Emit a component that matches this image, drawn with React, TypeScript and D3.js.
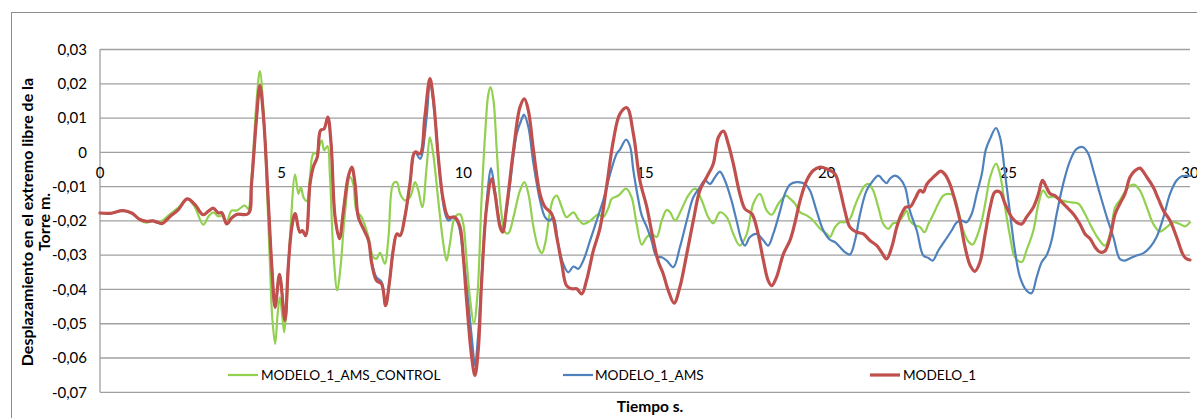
import React from "react";
import * as d3 from "d3";

// ---- DATA (time s, displacement m) ----
const xTicks = [0, 5, 10, 15, 20, 25, 30];
const yTicks = [0.03, 0.02, 0.01, 0, -0.01, -0.02, -0.03, -0.04, -0.05, -0.06, -0.07];
const seriesNames = ["MODELO_1_AMS_CONTROL", "MODELO_1_AMS", "MODELO_1"];
const axisTitleY = ["Desplazamiento en el extremo libre de la", "Torre m."];
const axisTitleX = "Tiempo s.";

const modelo1AmsControl: [number, number][] = [
  [0, -0.0177], [0.28, -0.0178], [0.63, -0.017], [0.87, -0.0177], [1.1, -0.0198], [1.28, -0.0205], [1.45, -0.02],
  [1.56, -0.0205], [1.7, -0.02], [1.93, -0.018], [2.15, -0.0162], [2.4, -0.0136], [2.61, -0.016], [2.84, -0.0211],
  [3.0, -0.0185], [3.12, -0.0175], [3.26, -0.0187], [3.35, -0.0185], [3.49, -0.02], [3.62, -0.017], [3.76, -0.017],
  [3.99, -0.0155], [4.08, -0.0165], [4.17, -0.0075], [4.31, 0.0151], [4.4, 0.0237], [4.5, 0.0122], [4.59, -0.0092],
  [4.68, -0.0335], [4.74, -0.048], [4.82, -0.0559], [4.89, -0.047], [4.95, -0.0423], [5.02, -0.048], [5.07, -0.0525],
  [5.14, -0.0442], [5.23, -0.0247], [5.37, -0.0065], [5.46, -0.0121], [5.53, -0.0102], [5.6, -0.0131], [5.69, -0.0142],
  [5.78, -0.0072], [5.87, -0.0004], [5.96, -0.0002], [6.1, 0.0035], [6.17, 0.0006], [6.26, 0.0018], [6.33, -0.0072],
  [6.42, -0.0286], [6.53, -0.0403], [6.62, -0.0335], [6.74, -0.0179], [6.88, -0.0072], [6.97, -0.0092], [7.06, -0.017],
  [7.2, -0.0189], [7.39, -0.0247], [7.52, -0.0306], [7.61, -0.031], [7.71, -0.0293], [7.84, -0.0325], [7.94, -0.0247],
  [8.07, -0.0092], [8.17, -0.0087], [8.26, -0.0121], [8.39, -0.014], [8.53, -0.0131], [8.67, -0.0087], [8.76, -0.0111],
  [8.87, -0.016], [8.99, -0.0043], [9.08, 0.0044], [9.17, -0.0004], [9.31, -0.014], [9.45, -0.0267], [9.54, -0.0316],
  [9.63, -0.0267], [9.77, -0.0189], [9.91, -0.0181], [10.0, -0.0209], [10.09, -0.0316], [10.18, -0.0423], [10.29, -0.05],
  [10.39, -0.0413], [10.5, -0.014], [10.6, 0.0054], [10.69, 0.0171], [10.75, 0.019], [10.83, 0.0151], [10.92, 0.0006],
  [11.03, -0.016], [11.15, -0.0233], [11.24, -0.0236], [11.38, -0.0189], [11.56, -0.0111], [11.68, -0.0087],
  [11.79, -0.0121], [11.93, -0.0218], [12.06, -0.0277], [12.16, -0.0294], [12.25, -0.0267], [12.39, -0.017],
  [12.48, -0.0135], [12.57, -0.0126], [12.71, -0.016], [12.84, -0.0189], [13.03, -0.0175], [13.16, -0.0194],
  [13.3, -0.0209], [13.49, -0.02], [13.72, -0.0181], [13.85, -0.0189], [14.0, -0.016], [14.08, -0.0136],
  [14.27, -0.0126], [14.48, -0.0106], [14.63, -0.0131], [14.77, -0.0209], [14.91, -0.0269], [15.05, -0.0247],
  [15.18, -0.0238], [15.32, -0.0247], [15.46, -0.0199], [15.6, -0.0168], [15.69, -0.0175], [15.83, -0.0199],
  [16.01, -0.0165], [16.19, -0.0126], [16.38, -0.0106], [16.56, -0.014], [16.74, -0.0189], [16.88, -0.0207],
  [17.06, -0.0175], [17.25, -0.0189], [17.43, -0.0238], [17.61, -0.0272], [17.8, -0.0238], [17.98, -0.015],
  [18.16, -0.0121], [18.35, -0.017], [18.49, -0.0182], [18.67, -0.015], [18.88, -0.0126], [18.99, -0.0135],
  [19.13, -0.015], [19.27, -0.0175], [19.45, -0.0184], [19.63, -0.0199], [19.82, -0.0223], [20.0, -0.0238],
  [20.09, -0.0247], [20.23, -0.0218], [20.37, -0.0204], [20.5, -0.0204], [20.64, -0.0194], [20.78, -0.0155],
  [20.92, -0.0121], [21.05, -0.0097], [21.15, -0.0092], [21.28, -0.0111], [21.42, -0.016], [21.56, -0.0209],
  [21.7, -0.0223], [21.83, -0.0207], [21.97, -0.0204], [22.11, -0.0184], [22.2, -0.017], [22.29, -0.0199],
  [22.43, -0.0213], [22.57, -0.0218], [22.69, -0.0233], [22.8, -0.0209], [22.94, -0.018], [23.07, -0.015],
  [23.21, -0.0126], [23.35, -0.0121], [23.49, -0.0126], [23.62, -0.017], [23.76, -0.0228], [23.9, -0.026],
  [24.02, -0.0269], [24.13, -0.0247], [24.27, -0.0199], [24.38, -0.014], [24.5, -0.0072], [24.66, -0.0033],
  [24.77, -0.0063], [24.91, -0.016], [25.05, -0.0247], [25.18, -0.0306], [25.37, -0.032], [25.5, -0.0286],
  [25.69, -0.0228], [25.83, -0.015], [25.96, -0.0111], [26.1, -0.0131], [26.24, -0.0129], [26.38, -0.0136],
  [26.56, -0.0143], [26.74, -0.0146], [26.93, -0.015], [27.11, -0.018], [27.29, -0.0218], [27.48, -0.0252],
  [27.66, -0.0272], [27.8, -0.0238], [27.94, -0.016], [28.07, -0.014], [28.3, -0.0102], [28.46, -0.0094],
  [28.62, -0.0111], [28.81, -0.016], [28.99, -0.0209], [29.17, -0.0231], [29.36, -0.0218], [29.54, -0.0204],
  [29.72, -0.0209], [29.86, -0.0216], [30, -0.0204],
];

const modelo1Ams: [number, number][] = [
  [0, -0.0177], [0.28, -0.0178], [0.63, -0.017], [0.87, -0.0177], [1.1, -0.0196], [1.28, -0.0201], [1.45, -0.02],
  [1.56, -0.0203], [1.7, -0.0208], [1.93, -0.0187], [2.15, -0.0168], [2.4, -0.0136], [2.61, -0.0152], [2.84, -0.0182],
  [3.0, -0.017], [3.12, -0.0163], [3.26, -0.0177], [3.35, -0.0176], [3.49, -0.0209], [3.62, -0.0192], [3.76, -0.0181],
  [4.08, -0.0179], [4.17, -0.0092], [4.31, 0.0103], [4.4, 0.0195], [4.5, 0.0103], [4.63, -0.014], [4.73, -0.0335],
  [4.82, -0.0452], [4.94, -0.0356], [5.09, -0.049], [5.18, -0.0335], [5.28, -0.0218], [5.37, -0.0179], [5.5, -0.0233],
  [5.57, -0.0228], [5.66, -0.0243], [5.78, -0.0092], [5.87, -0.0043], [5.98, -0.0014], [6.07, 0.0064], [6.17, 0.0069],
  [6.27, 0.0103], [6.36, 0.0025], [6.47, -0.0189], [6.59, -0.0252], [6.7, -0.017], [6.83, -0.0072], [6.93, -0.0043],
  [7.02, -0.0092], [7.11, -0.0189], [7.25, -0.0223], [7.39, -0.0257], [7.48, -0.032], [7.61, -0.0365], [7.75, -0.0378],
  [7.86, -0.0447], [7.96, -0.0384], [8.07, -0.0286], [8.17, -0.0238], [8.26, -0.0243], [8.39, -0.0189], [8.53, -0.0092],
  [8.67, 0.0001], [8.81, -0.0019], [8.99, 0.0103], [9.08, 0.02], [9.22, 0.0103], [9.36, -0.0072], [9.5, -0.0179],
  [9.59, -0.0199], [9.72, -0.0189], [9.86, -0.0209], [10.0, -0.0306], [10.14, -0.0442], [10.25, -0.0559],
  [10.32, -0.0622], [10.41, -0.053], [10.55, -0.0286], [10.69, -0.0092], [10.76, -0.0046], [10.87, -0.0111],
  [11.01, -0.0209], [11.08, -0.0228], [11.24, -0.0131], [11.47, 0.0054], [11.61, 0.0098], [11.67, 0.011],
  [11.79, 0.0074], [11.93, -0.0033], [12.11, -0.014], [12.25, -0.0189], [12.38, -0.0199], [12.48, -0.0189],
  [12.61, -0.0267], [12.75, -0.0325], [12.89, -0.035], [13.03, -0.0333], [13.16, -0.034], [13.3, -0.0316],
  [13.49, -0.0257], [13.67, -0.0199], [13.85, -0.014], [14.04, -0.0063], [14.22, -0.0004], [14.31, 0.0008],
  [14.48, 0.0037], [14.59, 0.0017], [14.68, -0.0053], [14.82, -0.014], [14.91, -0.0184], [15.05, -0.0218],
  [15.18, -0.0257], [15.32, -0.0304], [15.46, -0.0306], [15.6, -0.0316], [15.78, -0.0335], [15.96, -0.0277],
  [16.15, -0.0199], [16.33, -0.0131], [16.51, -0.0102], [16.65, -0.0082], [16.79, -0.0092], [16.93, -0.0072],
  [17.06, -0.0056], [17.2, -0.0082], [17.38, -0.014], [17.52, -0.0199], [17.66, -0.0257], [17.75, -0.0272],
  [17.89, -0.0247], [18.07, -0.0238], [18.26, -0.0257], [18.39, -0.0272], [18.53, -0.0238], [18.72, -0.017],
  [18.85, -0.0121], [18.99, -0.0094], [19.17, -0.0087], [19.4, -0.0092], [19.54, -0.0111], [19.72, -0.017],
  [19.91, -0.0228], [20.09, -0.0255], [20.23, -0.0262], [20.37, -0.0277], [20.5, -0.0291], [20.64, -0.0298],
  [20.78, -0.0257], [20.92, -0.018], [21.1, -0.0111], [21.28, -0.0082], [21.42, -0.0068], [21.56, -0.0082],
  [21.65, -0.009], [21.74, -0.0077], [21.88, -0.0068], [22.02, -0.0077], [22.16, -0.0102], [22.29, -0.017],
  [22.48, -0.0228], [22.66, -0.0301], [22.8, -0.0308], [22.92, -0.0316], [23.07, -0.0287], [23.26, -0.0257],
  [23.44, -0.0228], [23.58, -0.0204], [23.72, -0.0199], [23.85, -0.0204], [23.99, -0.018], [24.13, -0.0121],
  [24.27, -0.0063], [24.38, 0.0008], [24.5, 0.004], [24.66, 0.0071], [24.77, 0.0044], [24.91, -0.0063],
  [25.05, -0.018], [25.18, -0.0286], [25.32, -0.0364], [25.5, -0.0403], [25.64, -0.0411], [25.78, -0.0364],
  [25.92, -0.032], [26.05, -0.0301], [26.19, -0.0257], [26.33, -0.018], [26.51, -0.0092], [26.7, -0.0024],
  [26.88, 0.001], [27.06, 0.0015], [27.2, -0.0004], [27.34, -0.0053], [27.52, -0.0121], [27.71, -0.0189],
  [27.89, -0.0247], [28.07, -0.0311], [28.21, -0.0316], [28.35, -0.0309], [28.53, -0.0301], [28.72, -0.0294],
  [28.9, -0.0277], [29.08, -0.0247], [29.27, -0.0189], [29.45, -0.0121], [29.63, -0.0082], [29.77, -0.007],
  [30, -0.0069],
];

const modelo1: [number, number][] = [
  [0, -0.0177], [0.28, -0.0178], [0.63, -0.017], [0.87, -0.0177], [1.1, -0.0196], [1.28, -0.0201], [1.45, -0.02],
  [1.56, -0.0203], [1.7, -0.0208], [1.93, -0.0187], [2.15, -0.0168], [2.4, -0.0136], [2.61, -0.0152], [2.84, -0.0182],
  [3.0, -0.017], [3.12, -0.0163], [3.26, -0.0177], [3.35, -0.0176], [3.49, -0.0209], [3.62, -0.0192], [3.76, -0.0181],
  [4.08, -0.0179], [4.17, -0.0092], [4.31, 0.0103], [4.4, 0.0195], [4.5, 0.0103], [4.63, -0.014], [4.73, -0.0335],
  [4.82, -0.0452], [4.94, -0.0356], [5.09, -0.049], [5.18, -0.0335], [5.28, -0.0218], [5.37, -0.0179], [5.5, -0.0233],
  [5.57, -0.0228], [5.66, -0.0243], [5.78, -0.0092], [5.87, -0.0043], [5.98, -0.0014], [6.07, 0.0064], [6.17, 0.0069],
  [6.27, 0.0103], [6.36, 0.0025], [6.47, -0.0189], [6.59, -0.0252], [6.7, -0.017], [6.83, -0.0072], [6.93, -0.0043],
  [7.02, -0.0092], [7.11, -0.0189], [7.25, -0.0223], [7.39, -0.0257], [7.48, -0.0325], [7.61, -0.0374], [7.75, -0.0384],
  [7.86, -0.0447], [7.96, -0.0384], [8.07, -0.0286], [8.17, -0.0238], [8.26, -0.0243], [8.39, -0.0189], [8.53, -0.0092],
  [8.67, 0.0001], [8.81, -0.0004], [8.94, 0.0103], [9.08, 0.0215], [9.17, 0.0161], [9.31, -0.0014], [9.45, -0.014],
  [9.59, -0.0189], [9.77, -0.0189], [9.91, -0.0218], [10.0, -0.0306], [10.09, -0.0432], [10.23, -0.0597],
  [10.32, -0.0651], [10.41, -0.0577], [10.5, -0.0384], [10.64, -0.016], [10.78, -0.0077], [10.87, -0.0121],
  [11.01, -0.0218], [11.08, -0.0233], [11.19, -0.016], [11.38, 0.0006], [11.56, 0.0132], [11.68, 0.0156],
  [11.79, 0.0122], [11.93, 0.0006], [12.11, -0.0121], [12.25, -0.016], [12.43, -0.0179], [12.57, -0.0247],
  [12.71, -0.0325], [12.84, -0.0389], [12.98, -0.0398], [13.12, -0.0398], [13.26, -0.0413], [13.39, -0.0374],
  [13.58, -0.0286], [13.76, -0.0222], [13.94, -0.0102], [14.13, 0.0035], [14.31, 0.0112], [14.5, 0.013],
  [14.68, 0.0054], [14.86, -0.0082], [15.05, -0.016], [15.23, -0.0257], [15.37, -0.032], [15.5, -0.0354],
  [15.64, -0.0403], [15.8, -0.044], [15.96, -0.0393], [16.15, -0.0296], [16.33, -0.0199], [16.51, -0.0111],
  [16.7, -0.0072], [16.88, -0.0033], [17.02, 0.0044], [17.16, 0.0062], [17.29, 0.0025], [17.43, -0.0033],
  [17.61, -0.0121], [17.75, -0.0165], [17.94, -0.0179], [18.07, -0.0218], [18.26, -0.0316], [18.39, -0.0374],
  [18.49, -0.0389], [18.62, -0.0364], [18.81, -0.0296], [18.99, -0.0257], [19.13, -0.0204], [19.27, -0.014],
  [19.45, -0.0082], [19.63, -0.0053], [19.82, -0.0043], [20.0, -0.0048], [20.23, -0.0063], [20.37, -0.0111],
  [20.5, -0.017], [20.64, -0.0218], [20.83, -0.0233], [21.01, -0.0238], [21.19, -0.0257], [21.38, -0.0272],
  [21.51, -0.0291], [21.65, -0.0311], [21.79, -0.0277], [21.93, -0.0218], [22.06, -0.018], [22.18, -0.016],
  [22.31, -0.0158], [22.43, -0.0136], [22.57, -0.0111], [22.66, -0.0116], [22.75, -0.0094], [22.89, -0.0077],
  [23.03, -0.0063], [23.14, -0.0055], [23.26, -0.0065], [23.39, -0.0092], [23.53, -0.014], [23.67, -0.0199],
  [23.81, -0.0277], [23.95, -0.033], [24.08, -0.0347], [24.22, -0.032], [24.36, -0.024], [24.5, -0.016],
  [24.63, -0.0116], [24.77, -0.0116], [24.91, -0.015], [25.09, -0.0189], [25.23, -0.0204], [25.37, -0.0209],
  [25.5, -0.0189], [25.69, -0.016], [25.83, -0.0121], [25.94, -0.0082], [26.05, -0.0102], [26.15, -0.0121],
  [26.28, -0.0126], [26.42, -0.014], [26.61, -0.016], [26.79, -0.018], [26.97, -0.0209], [27.11, -0.0238],
  [27.25, -0.0252], [27.39, -0.0277], [27.52, -0.0291], [27.66, -0.0288], [27.8, -0.0247], [27.94, -0.018],
  [28.07, -0.015], [28.21, -0.0121], [28.35, -0.0072], [28.49, -0.0053], [28.62, -0.0046], [28.81, -0.0072],
  [28.99, -0.0102], [29.13, -0.0136], [29.27, -0.017], [29.45, -0.0199], [29.63, -0.0247], [29.82, -0.0301],
  [29.91, -0.0311], [30, -0.0314],
];

const seriesData = [modelo1AmsControl, modelo1Ams, modelo1];
const seriesColors = ["#92D050", "#4F81BD", "#C0504D"];
const seriesWidths = [2.2, 2.2, 3.2];

const W = 1197;
const H = 418;
const M = { left: 100, right: 1190, top: 49.5, bottom: 392.3 };

const loc = d3.formatLocale({ decimal: ",", thousands: ".", grouping: [3], currency: ["", ""], minus: "-" });
const f2 = loc.format(".2f");
const fmtY = (v: number) => (Math.abs(v) < 1e-9 ? "0" : f2(v));

export default function App() {
  const x = d3.scaleLinear().domain([0, 30]).range([M.left, M.right]);
  const y = d3.scaleLinear().domain([-0.07, 0.03]).range([M.bottom, M.top]);
  const line = d3
    .line<[number, number]>()
    .x((d) => x(d[0]))
    .y((d) => y(d[1]))
    .curve(d3.curveCatmullRom.alpha(0.5));

  const font = "Lato, 'Open Sans', sans-serif";
  const legendItems = [
    { lx: 228, tx: 261 },
    { lx: 563, tx: 595 },
    { lx: 870, tx: 903 },
  ];
  const legendY = 375;
  const titleCy = 222;

  return (
    <svg
      width={W}
      height={H}
      style={{ position: "absolute", left: 0, top: 0, background: "#fff" }}
      fontFamily={font}
    >
      <rect x={0} y={0} width={W} height={H} fill="#fff" />
      <rect x={11.5} y={12.5} width={W + 10} height={H + 10} fill="none" stroke="#8c8c8c" strokeWidth={1} />
      {/* gridlines */}
      {yTicks.map((t) => (
        <line key={t} x1={M.left} x2={M.right} y1={y(t)} y2={y(t)} stroke="#a0a0a0" strokeWidth={1.3} />
      ))}
      <line x1={M.left} x2={M.left} y1={M.top} y2={M.bottom} stroke="#a0a0a0" strokeWidth={1.3} />
      {/* y tick labels */}
      {yTicks.map((t) => (
        <text key={t} x={87} y={y(t)} dy="0.35em" textAnchor="end" fontSize={15} fill="#000">
          {fmtY(t)}
        </text>
      ))}
      {/* x tick labels */}
      {xTicks.map((t) => (
        <text key={t} x={x(t)} y={y(0) + 26} textAnchor="middle" fontSize={15} fill="#000">
          {t}
        </text>
      ))}
      {/* series */}
      {seriesData.map((s, i) => (
        <path
          key={seriesNames[i]}
          d={line(s) || ""}
          fill="none"
          stroke={seriesColors[i]}
          strokeWidth={seriesWidths[i]}
          strokeLinejoin="round"
          strokeLinecap="round"
        />
      ))}
      {/* legend */}
      {seriesNames.map((n, i) => (
        <g key={n}>
          <line
            x1={legendItems[i].lx}
            x2={legendItems[i].lx + 30}
            y1={legendY}
            y2={legendY}
            stroke={seriesColors[i]}
            strokeWidth={seriesWidths[i]}
          />
          <text x={legendItems[i].tx} y={legendY} dy="0.35em" fontSize={13.6} fill="#000">
            {n}
          </text>
        </g>
      ))}
      {/* axis titles */}
      <text
        transform={`translate(27, ${titleCy}) rotate(-90)`}
        textAnchor="middle"
        dy="0.35em"
        fontSize={16}
        fontWeight="bold"
        fill="#000"
      >
        {axisTitleY[0]}
      </text>
      <text
        transform={`translate(44, ${titleCy}) rotate(-90)`}
        textAnchor="middle"
        dy="0.35em"
        fontSize={16}
        fontWeight="bold"
        fill="#000"
      >
        {axisTitleY[1]}
      </text>
      <text x={650} y={407} dy="0.35em" textAnchor="middle" fontSize={15.5} fontWeight="bold" fill="#000">
        {axisTitleX}
      </text>
    </svg>
  );
}
